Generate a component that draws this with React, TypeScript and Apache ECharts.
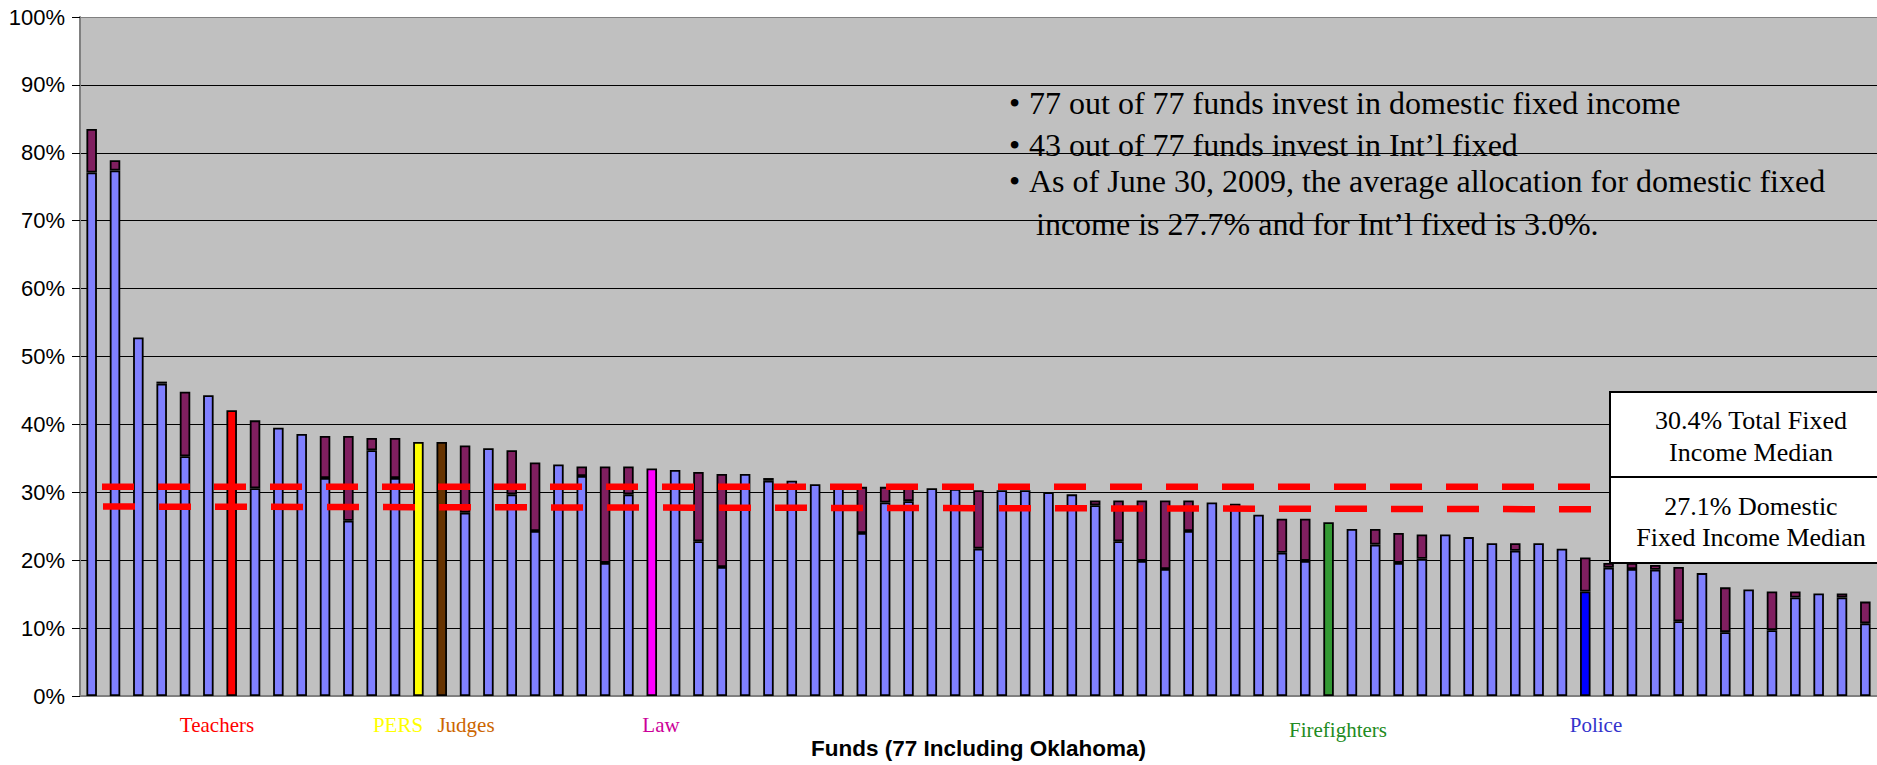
import React, { useEffect, useRef } from "react";
import * as echarts from "echarts";

// ---------- data ----------
const fundNames = [
  "Fund 1", "Fund 2", "Fund 3", "Fund 4", "Fund 5", "Fund 6", "Teachers", "Fund 8", "Fund 9", "Fund 10",
  "Fund 11", "Fund 12", "Fund 13", "Fund 14", "PERS", "Judges", "Fund 17", "Fund 18", "Fund 19", "Fund 20",
  "Fund 21", "Fund 22", "Fund 23", "Fund 24", "Law", "Fund 26", "Fund 27", "Fund 28", "Fund 29", "Fund 30",
  "Fund 31", "Fund 32", "Fund 33", "Fund 34", "Fund 35", "Fund 36", "Fund 37", "Fund 38", "Fund 39", "Fund 40",
  "Fund 41", "Fund 42", "Fund 43", "Fund 44", "Fund 45", "Fund 46", "Fund 47", "Fund 48", "Fund 49", "Fund 50",
  "Fund 51", "Fund 52", "Fund 53", "Firefighters", "Fund 55", "Fund 56", "Fund 57", "Fund 58", "Fund 59", "Fund 60",
  "Fund 61", "Fund 62", "Fund 63", "Fund 64", "Police", "Fund 66", "Fund 67", "Fund 68", "Fund 69", "Fund 70",
  "Fund 71", "Fund 72", "Fund 73", "Fund 74", "Fund 75", "Fund 76", "Fund 77",
];

const domesticFixed = [
  77.1, 77.4, 52.8, 46.0, 35.3, 44.3, 42.1, 30.6, 39.5, 38.6,
  32.1, 25.8, 36.2, 32.1, 37.4, 37.4, 27.0, 36.5, 29.7, 24.3,
  34.1, 32.4, 19.6, 29.7, 33.5, 33.3, 22.8, 19.0, 32.7, 31.7,
  31.7, 31.2, 31.0, 24.0, 28.5, 28.7, 30.6, 30.5, 21.7, 30.3,
  30.3, 30.0, 29.7, 28.1, 22.8, 19.9, 18.7, 24.3, 28.5, 28.3,
  26.7, 21.1, 19.9, 25.6, 24.6, 22.3, 19.6, 20.2, 23.8, 23.4,
  22.5, 21.4, 22.5, 21.7, 15.4, 18.9, 18.7, 18.6, 11.0, 18.1,
  9.4, 15.7, 9.7, 14.5, 15.1, 14.5, 10.7,
];

const intlFixed = [
  6.4, 1.5, 0, 0.3, 9.5, 0, 0, 10.0, 0, 0,
  6.2, 12.5, 1.8, 5.9, 0, 0, 9.9, 0, 6.5, 10.1,
  0, 1.4, 14.2, 4.1, 0, 0, 10.2, 13.7, 0, 0.4,
  0, 0, 0, 6.8, 2.3, 2.1, 0, 0, 8.6, 0,
  0, 0, 0, 0.7, 6.0, 8.9, 10.1, 4.5, 0, 0,
  0, 5.0, 6.2, 0, 0, 2.3, 4.4, 3.6, 0, 0,
  0, 1.1, 0, 0, 5.0, 0.7, 0.9, 0.7, 8.0, 0,
  6.6, 0, 5.7, 0.9, 0, 0.6, 3.2,
];

const oklahomaFunds = ["Teachers", "PERS", "Judges", "Law", "Firefighters", "Police"];
const oklahomaBarColors = ["#FF0000", "#FFFF00", "#663300", "#FF00FF", "#339933", "#0000FF"];
const oklahomaLabelColors = ["#FF0000", "#FFFF00", "#CC6600", "#CC0099", "#228B22", "#3333CC"];

const yMin = 0;
const yMax = 100;
const yInterval = 10;

// drawn median bands (left end, right end) in %
const totalMedianLine = [30.8, 30.8];
const domesticMedianLine = [27.9, 27.5];

const bulletLines = [
  "77 out of 77 funds invest in domestic fixed income",
  "43 out of 77 funds invest in Int\u2019l fixed",
  "As of June 30, 2009, the average allocation for domestic fixed",
];
const bulletContinuation = "income is 27.7% and for Int\u2019l fixed is 3.0%.";
const totalMedianText = ["30.4% Total Fixed", "Income Median"];
const domesticMedianText = ["27.1% Domestic", "Fixed Income Median"];
const xAxisTitle = "Funds (77 Including Oklahoma)";

// label placement (pixel centers) for Oklahoma fund names
const labelPlacement = [
  [217, 725],
  [398, 725],
  [466, 725],
  [661, 725],
  [1338, 730],
  [1596, 725],
];

const SANS = "'Liberation Sans', Arial, sans-serif";
const SERIF = "'Liberation Serif', 'Times New Roman', serif";

export default function App() {
  const ref = useRef<HTMLDivElement>(null);

  useEffect(() => {
    document.body.style.margin = "0";
    if (!ref.current) return;
    const chart = echarts.init(ref.current, null, { renderer: "svg" });

    const domData = domesticFixed.map((v, i) => {
      const k = oklahomaFunds.indexOf(fundNames[i]);
      if (k >= 0) return { value: v, itemStyle: { color: oklahomaBarColors[k] } };
      return v;
    });
    const intlData = intlFixed.map((v) => (v > 0 ? v : "-"));

    const splitColors: string[] = [];
    for (let t = yMin; t <= yMax; t += yInterval) splitColors.push(t === yMax ? "#808080" : "#000000");

    chart.setOption({
      animation: false,
      backgroundColor: "#FFFFFF",
      grid: {
        left: 80,
        right: -12,
        top: 17,
        bottom: 67,
        show: true,
        backgroundColor: "#C0C0C0",
        borderWidth: 0,
      },
      xAxis: {
        type: "category",
        data: fundNames,
        axisLine: { show: true, lineStyle: { color: "#808080", width: 2 } },
        axisTick: { show: false },
        axisLabel: { show: false },
        splitLine: { show: false },
        name: xAxisTitle,
        nameLocation: "middle",
        nameGap: 41,
        nameTextStyle: { fontFamily: SANS, fontWeight: "bold", fontSize: 22.5, color: "#000" },
      },
      yAxis: {
        type: "value",
        min: yMin,
        max: yMax,
        interval: yInterval,
        axisLine: { show: true, lineStyle: { color: "#808080", width: 2 } },
        axisTick: { show: true, length: 8, lineStyle: { color: "#000", width: 1 } },
        axisLabel: {
          formatter: "{value}%",
          fontFamily: SANS,
          fontSize: 22,
          color: "#000",
          margin: 15,
        },
        splitLine: { show: true, lineStyle: { color: splitColors, width: 1 } },
      },
      series: [
        {
          name: "Domestic Fixed Income",
          type: "bar",
          stack: "fixed",
          data: domData,
          barWidth: 10.5,
          itemStyle: { color: "#8080FF", borderColor: "#000", borderWidth: 1.8 },
        },
        {
          name: "Int'l Fixed Income",
          type: "bar",
          stack: "fixed",
          data: intlData,
          barWidth: 10.5,
          itemStyle: { color: "#801F60", borderColor: "#000", borderWidth: 1.8 },
        },
      ],
    });

    const py = (v: number) => chart.convertToPixel({ yAxisIndex: 0 }, v) as number;

    const graphics: any[] = [];
    // median dashed lines
    graphics.push({
      type: "line",
      z: 100,
      shape: { x1: 102, y1: py(totalMedianLine[0]), x2: 1590, y2: py(totalMedianLine[1]) },
      style: { stroke: "#FF0000", lineWidth: 6.5, lineDash: [32, 24], lineCap: "butt" },
    });
    graphics.push({
      type: "line",
      z: 100,
      shape: { x1: 103, y1: py(domesticMedianLine[0]), x2: 1592, y2: py(domesticMedianLine[1]) },
      style: { stroke: "#FF0000", lineWidth: 6.5, lineDash: [32, 24], lineCap: "butt" },
    });
    // median boxes
    graphics.push({
      type: "rect",
      z: 110,
      shape: { x: 1610, y: 392, width: 282, height: 85 },
      style: { fill: "#FFFFFF", stroke: "#000", lineWidth: 2 },
    });
    graphics.push({
      type: "rect",
      z: 110,
      shape: { x: 1610, y: 477, width: 282, height: 86 },
      style: { fill: "#FFFFFF", stroke: "#000", lineWidth: 2 },
    });
    const boxTexts = [
      [totalMedianText[0], 420],
      [totalMedianText[1], 452],
      [domesticMedianText[0], 506],
      [domesticMedianText[1], 537],
    ];
    boxTexts.forEach(([t, y]) => {
      graphics.push({
        type: "text",
        z: 120,
        x: 1751,
        y: y as number,
        style: {
          text: t as string,
          font: `26px ${SERIF}`,
          fill: "#000",
          align: "center",
          verticalAlign: "middle",
        },
      });
    });
    // bullet annotation
    const lineYs = [103, 145, 181];
    bulletLines.forEach((t, i) => {
      graphics.push({
        type: "text",
        z: 120,
        x: 1009,
        y: lineYs[i],
        style: { text: "\u2022", font: `32px ${SERIF}`, fill: "#000", align: "left", verticalAlign: "middle" },
      });
      graphics.push({
        type: "text",
        z: 120,
        x: 1029,
        y: lineYs[i],
        style: { text: t, font: `32px ${SERIF}`, fill: "#000", align: "left", verticalAlign: "middle" },
      });
    });
    graphics.push({
      type: "text",
      z: 120,
      x: 1036,
      y: 224,
      style: { text: bulletContinuation, font: `32px ${SERIF}`, fill: "#000", align: "left", verticalAlign: "middle" },
    });
    // Oklahoma fund labels
    oklahomaFunds.forEach((name, k) => {
      graphics.push({
        type: "text",
        z: 120,
        x: labelPlacement[k][0],
        y: labelPlacement[k][1],
        style: {
          text: name,
          font: `21px ${SERIF}`,
          fill: oklahomaLabelColors[k],
          align: "center",
          verticalAlign: "middle",
        },
      });
    });

    chart.setOption({ graphic: graphics });

    return () => chart.dispose();
  }, []);

  return <div ref={ref} style={{ width: 1877, height: 765 }} />;
}
